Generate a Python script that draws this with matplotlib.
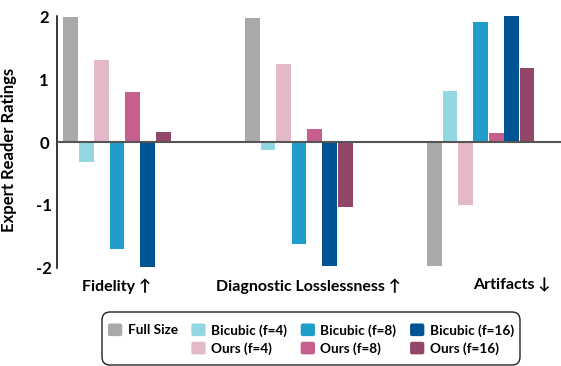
import matplotlib
matplotlib.use("Agg")
import matplotlib.pyplot as plt
import numpy as np
from matplotlib.legend_handler import HandlerPatch
from matplotlib.patches import FancyBboxPatch, Patch
from matplotlib.transforms import IdentityTransform

plt.rcParams["font.family"] = ["Lato", "DejaVu Sans"]
plt.rcParams["font.weight"] = "bold"

# data
categories = ["Fidelity \u2191", "Diagnostic Losslessness \u2191", "Artifacts \u2193"]
series_names = ["Full Size", "Bicubic (f=4)", "Ours (f=4)", "Bicubic (f=8)",
                "Ours (f=8)", "Bicubic (f=16)", "Ours (f=16)"]
full_size = [2.00, 1.98, -1.98]
bicubic_f4 = [-0.32, -0.13, 0.82]
ours_f4 = [1.31, 1.25, -1.01]
bicubic_f8 = [-1.71, -1.63, 1.92]
ours_f8 = [0.80, 0.21, 0.14]
bicubic_f16 = [-2.00, -1.98, 2.02]
ours_f16 = [0.16, -1.04, 1.18]
y_ticks = [-2, -1, 0, 1, 2]

colors = ["#a9a9a9", "#93d7e3", "#e3b8c8", "#219dcc",
          "#c55f8e", "#005493", "#924769"]

series = [full_size, bicubic_f4, ours_f4, bicubic_f8, ours_f8, bicubic_f16, ours_f16]

W, H = 561, 366
group_step = 11.8
group_x = np.arange(len(categories)) * group_step
label_shift = [-0.06, 0.6, 2.0]

fig = plt.figure(figsize=(W / 100, H / 100), dpi=100)
ax = fig.add_axes([57 / W, 0.267, 1 - 57 / W, 0.690])

for j, (vals, name, c) in enumerate(zip(series, series_names, colors)):
    ax.bar(group_x + j, vals, width=0.96, color=c, label=name, zorder=2)

ax.axhline(0, color="#555555", lw=1.5, zorder=3)

ax.set_xlim(-0.89, 31.8)
ax.set_ylim(-2.02, 2.02)
ax.set_yticks(y_ticks)
ax.set_yticklabels([str(t) for t in y_ticks], fontsize=12, fontweight="bold")
for lbl in ax.get_yticklabels():
    lbl.set_horizontalalignment("center")
ax.tick_params(axis="y", length=0, pad=9.4)

ax.set_xticks(group_x + 3 + np.array(label_shift))
ax.set_xticklabels(categories, fontsize=11.5, fontweight="bold")
ax.tick_params(axis="x", length=0, pad=7)

for s in ["top", "right", "bottom"]:
    ax.spines[s].set_visible(False)
ax.spines["left"].set_linewidth(1.1)

ax.set_ylabel("Expert Reader Ratings", fontsize=12, fontweight="bold")
ax.yaxis.set_label_coords(-0.079, 0.47)


def rounded_square(legend, orig_handle, xdescent, ydescent, width, height, fontsize):
    r = 1.5
    return FancyBboxPatch((-xdescent + r, -ydescent + r), width - 2 * r, height - 2 * r,
                          boxstyle=f"round,pad={r}", edgecolor="none")


handles = [Patch(facecolor=c) for c in colors]
blank = Patch(facecolor="none", edgecolor="none")
leg_handles = [handles[0], blank, handles[1], handles[2], handles[3], handles[4],
               handles[5], handles[6]]
leg_labels = [series_names[0], "", series_names[1], series_names[2], series_names[3],
              series_names[4], series_names[5], series_names[6]]

leg = fig.legend(leg_handles, leg_labels, ncol=4, loc="upper left",
                 bbox_to_anchor=(108 / W, 1 - 323.5 / H),
                 prop={"size": 9.8, "weight": "bold"},
                 handlelength=1.05, handleheight=1.05, handletextpad=0.4,
                 columnspacing=1.0, labelspacing=0.38, borderpad=0,
                 borderaxespad=0,
                 handler_map={Patch: HandlerPatch(patch_func=rounded_square)},
                 frameon=False)

# rounded box around the legend, in pixels
box = FancyBboxPatch((102, H - 365), 418, 53, boxstyle="round,pad=0,rounding_size=8",
                     transform=IdentityTransform(), facecolor="none",
                     edgecolor="#222222", linewidth=1.0)
fig.add_artist(box)

fig.savefig("out.png", dpi=100)
